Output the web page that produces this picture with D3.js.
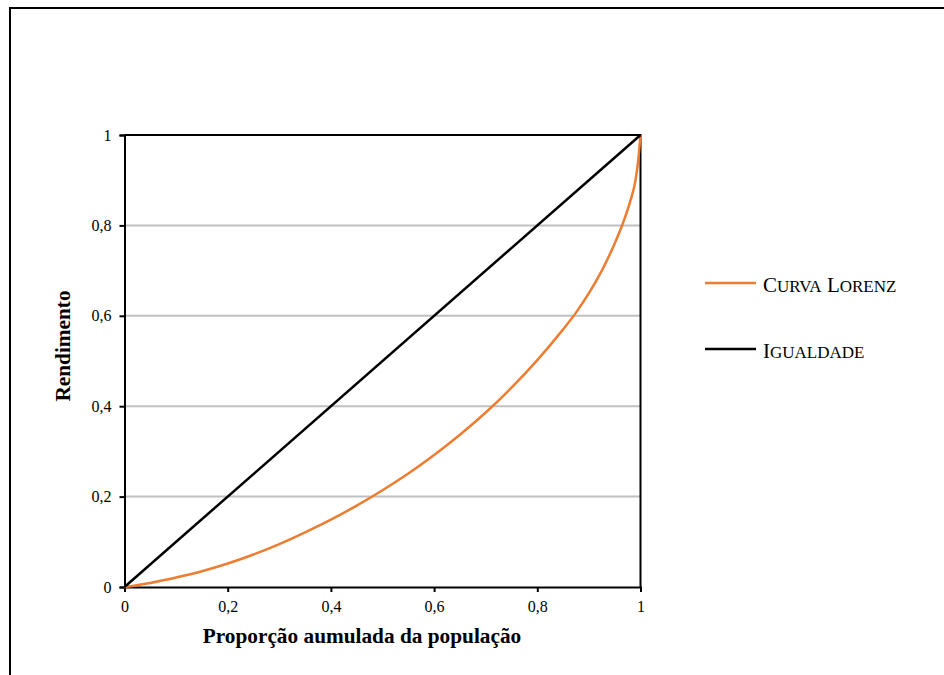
<!DOCTYPE html>
<html>
<head>
<meta charset="utf-8">
<script src="https://cdn.jsdelivr.net/npm/d3@7"></script>
<style>
  html, body { margin: 0; padding: 0; background: #fff; overflow: hidden; }
  svg { display: block; font-family: "Liberation Serif", "Times New Roman", serif; }
</style>
</head>
<body>
<svg id="chart" width="944" height="675"></svg>
<script>
// ---- Data ----
const populationShare = [0, 0.05, 0.1, 0.15, 0.2, 0.25, 0.3, 0.35, 0.4, 0.45, 0.5, 0.55, 0.6, 0.65, 0.7, 0.75, 0.8, 0.85, 0.875, 0.9, 0.925, 0.95, 0.965, 0.98, 0.99, 0.995, 1];
const lorenzIncome    = [0, 0.009, 0.021, 0.035, 0.052, 0.072, 0.095, 0.121, 0.149, 0.18, 0.214, 0.251, 0.292, 0.337, 0.386, 0.441, 0.502, 0.57, 0.607, 0.65, 0.70, 0.76, 0.802, 0.853, 0.898, 0.938, 1];
const equalityX = [0, 1];
const equalityY = [0, 1];
const tickValues = [0, 0.2, 0.4, 0.6, 0.8, 1];
const tickLabels = ["0", "0,2", "0,4", "0,6", "0,8", "1"];
const seriesNames = ["Curva Lorenz", "Igualdade"];
const seriesColors = ["#ED7D31", "#000000"];
const xTitle = "Proporção aumulada da população";
const yTitle = "Rendimento";

// ---- Layout ----
const svg = d3.select("#chart");
const plot = { left: 124.5, top: 135, right: 640.5, bottom: 587 };

// outer frame (extends past right/bottom edges)
svg.append("rect")
  .attr("x", 10).attr("y", 8).attr("width", 1000).attr("height", 1000)
  .attr("fill", "none").attr("stroke", "#000").attr("stroke-width", 2);

const x = d3.scaleLinear().domain([0, 1]).range([plot.left, plot.right]);
const y = d3.scaleLinear().domain([0, 1]).range([plot.bottom, plot.top]);
const fmt = d => tickLabels[tickValues.indexOf(d)];

// gridlines
svg.append("g")
  .selectAll("line")
  .data(tickValues.filter(v => v > 0 && v < 1))
  .join("line")
  .attr("x1", plot.left).attr("x2", plot.right)
  .attr("y1", d => y(d)).attr("y2", d => y(d))
  .attr("stroke", "#c0c0c0").attr("stroke-width", 2);

// top and right border of plot
svg.append("path")
  .attr("d", `M${plot.left},${plot.top}H${plot.right}V${plot.bottom}`)
  .attr("fill", "none").attr("stroke", "#000").attr("stroke-width", 2);

// axes
const xAxis = svg.append("g")
  .attr("transform", `translate(0,${plot.bottom})`)
  .call(d3.axisBottom(x).tickValues(tickValues).tickFormat(fmt).tickSize(5).tickPadding(9));
const yAxis = svg.append("g")
  .attr("transform", `translate(${plot.left},0)`)
  .call(d3.axisLeft(y).tickValues(tickValues).tickFormat(fmt).tickSize(5).tickPadding(8));
[xAxis, yAxis].forEach(g => {
  g.select(".domain").attr("stroke", "#000").attr("stroke-width", 2);
  g.selectAll(".tick line").attr("stroke", "#000").attr("stroke-width", 2);
  g.selectAll(".tick text")
    .attr("fill", "#000")
    .style("font-family", '"Liberation Serif", "Times New Roman", serif')
    .style("font-size", "16px");
});

// series
const line = d3.line().x(d => x(d[0])).y(d => y(d[1])).curve(d3.curveMonotoneX);
svg.append("path")
  .datum(populationShare.map((p, i) => [p, lorenzIncome[i]]))
  .attr("d", line)
  .attr("fill", "none").attr("stroke", seriesColors[0]).attr("stroke-width", 2.5);
svg.append("path")
  .datum(equalityX.map((p, i) => [p, equalityY[i]]))
  .attr("d", d3.line().x(d => x(d[0])).y(d => y(d[1])))
  .attr("fill", "none").attr("stroke", seriesColors[1]).attr("stroke-width", 2.5);

// axis titles
svg.append("text")
  .attr("x", 362).attr("y", 643)
  .attr("text-anchor", "middle")
  .style("font-weight", "bold").style("font-size", "21.3px")
  .text(xTitle);
svg.append("text")
  .attr("transform", "translate(70,346) rotate(-90)")
  .attr("text-anchor", "middle")
  .style("font-weight", "bold").style("font-size", "21.3px")
  .text(yTitle);

// legend (small caps built from tspans)
const legendY = [283, 349];
const legend = svg.append("g");
seriesNames.forEach((name, i) => {
  legend.append("line")
    .attr("x1", 705).attr("x2", 756)
    .attr("y1", legendY[i]).attr("y2", legendY[i])
    .attr("stroke", seriesColors[i]).attr("stroke-width", 2.5);
  const t = legend.append("text")
    .attr("x", 763).attr("y", legendY[i] + 8.5)
    .attr("aria-label", name);
  name.split(" ").forEach((word, wi) => {
    t.append("tspan").style("font-size", "21px").text((wi > 0 ? " " : "") + word[0].toUpperCase());
    t.append("tspan").style("font-size", "17px").text(word.slice(1).toUpperCase());
  });
});
</script>
</body>
</html>
